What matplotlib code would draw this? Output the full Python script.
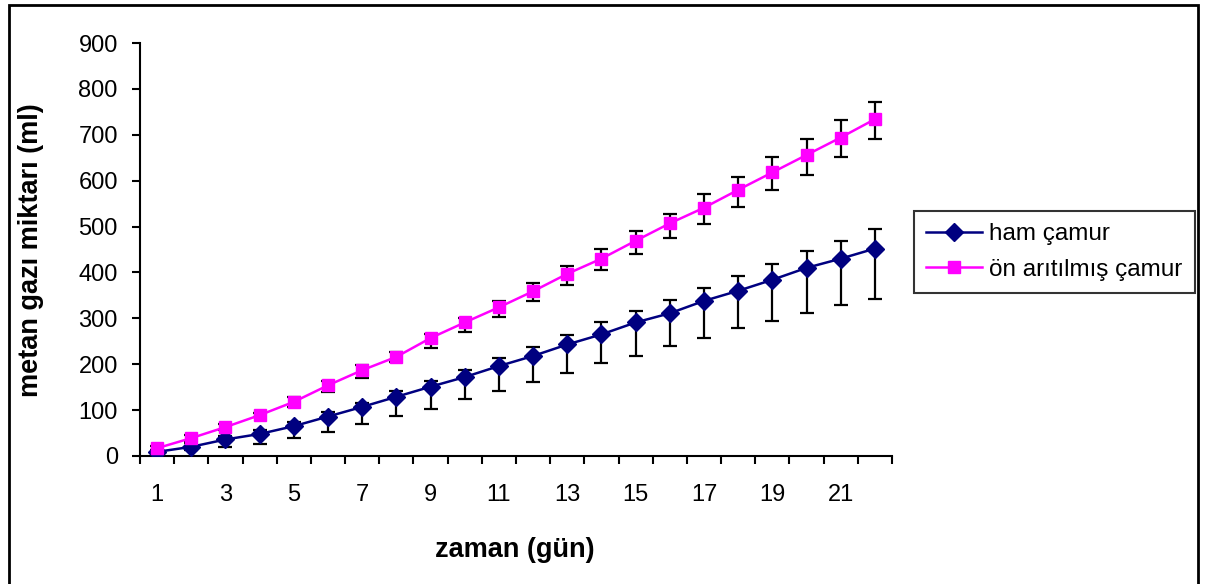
import matplotlib
matplotlib.use("Agg")
import matplotlib.pyplot as plt
from matplotlib.patches import Rectangle
from matplotlib.ticker import FixedLocator, NullFormatter

plt.rcParams['font.family'] = ['Liberation Sans', 'DejaVu Sans']

days = list(range(1, 23))

ham = [9, 20, 36, 48, 65, 86, 107, 129, 151, 172, 196, 218,
       243, 265, 291, 311, 338, 360, 384, 410, 430, 452]
ham_err_minus = [4, 7, 17, 21, 26, 34, 38, 42, 48, 47, 55, 56,
                 63, 63, 72, 71, 81, 81, 89, 98, 101, 110]
ham_err_plus = [4, 9, 8, 9, 9, 9, 9, 13, 12, 16, 17, 20,
                21, 26, 26, 30, 29, 33, 35, 37, 39, 42]

on = [17, 39, 63, 89, 118, 154, 187, 216, 257, 291, 324, 359,
      397, 430, 469, 507, 541, 580, 618, 656, 694, 734]
on_err_minus = [4, 6, 6, 5, 11, 14, 16, 11, 22, 21, 21, 21,
                25, 25, 29, 33, 35, 38, 38, 43, 42, 43]
on_err_plus = [4, 6, 6, 5, 10, 10, 12, 11, 9, 9, 13, 17,
               18, 22, 21, 21, 30, 29, 33, 34, 38, 37]

labels = ['ham çamur', 'ön arıtılmış çamur']
xlabel = 'zaman (gün)'
ylabel = 'metan gazı miktarı (ml)'
yticks = [0, 100, 200, 300, 400, 500, 600, 700, 800, 900]
xticks = [1, 3, 5, 7, 9, 11, 13, 15, 17, 19, 21]

W, H = 1209, 584
fig = plt.figure(figsize=(W / 100, H / 100), dpi=100)
ax = fig.add_axes([140 / W, 1 - 456 / H, (892 - 140) / W, (456 - 43) / H])

for y, em, ep in [(ham, ham_err_minus, ham_err_plus), (on, on_err_minus, on_err_plus)]:
    ax.errorbar(days, y, yerr=[em, ep], fmt='none', ecolor='black',
                elinewidth=1.6, capsize=4.8, capthick=1.6, zorder=2)

l1, = ax.plot(days, ham, color='#000080', marker='D', markersize=9,
              linewidth=1.8, label=labels[0], zorder=3)
l2, = ax.plot(days, on, color='#FF00FF', marker='s', markersize=8.5,
              linewidth=1.8, label=labels[1], zorder=3)

ax.set_xlim(0.5, 22.5)
ax.set_ylim(0, 900)
ax.set_yticks(yticks)
ax.set_xticks(xticks)
ax.xaxis.set_minor_locator(FixedLocator([i + 0.5 for i in range(0, 23)]))
ax.xaxis.set_minor_formatter(NullFormatter())
ax.tick_params(axis='x', which='major', length=0, pad=20, labelsize=17)
ax.tick_params(axis='x', which='minor', length=5.5, width=1.5, direction='out')
ax.tick_params(axis='y', which='major', length=6, width=1.5, pad=10, labelsize=17)

for s in ['top', 'right']:
    ax.spines[s].set_visible(False)
for s in ['left', 'bottom']:
    ax.spines[s].set_linewidth(1.5)

fig.text(31 / W, 1 - 250 / H, ylabel, rotation=90, ha='center', va='center',
         fontsize=19.5, fontweight='bold')
fig.text(515 / W, 1 - 550 / H, xlabel, ha='center', va='center',
         fontsize=19.5, fontweight='bold')

leg = fig.legend(handles=[l1, l2], loc='upper left',
                 bbox_to_anchor=(914 / W, 1 - 211 / H), fontsize=17.5,
                 frameon=True, fancybox=False, edgecolor='black',
                 handlelength=2.3, borderpad=0.5, labelspacing=0.55,
                 handletextpad=0.3, borderaxespad=0)
leg.get_frame().set_linewidth(1.5)

fig.patches.append(Rectangle((9 / W, -0.05), (1198 - 9) / W, 1.05 - 5 / H,
                             transform=fig.transFigure, fill=False,
                             edgecolor='black', linewidth=2))

fig.savefig('out.png', dpi=100)
